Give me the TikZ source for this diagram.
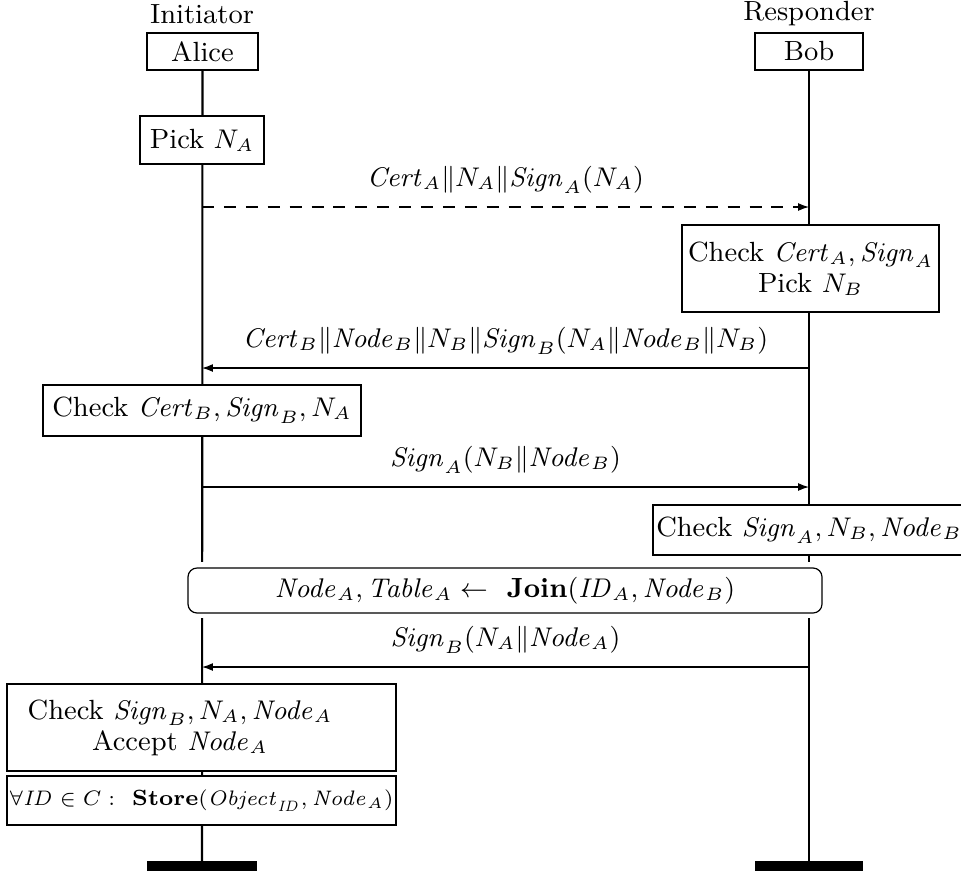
\documentclass[tikz,border=0pt]{standalone}
\usetikzlibrary{arrows.meta}
% one drawing unit = one third of a point
\newcommand\pu[1]{#1*0.3333pt}
% italic words in formulas
\newcommand\w[1]{\mathit{#1}}
\begin{document}
\begin{tikzpicture}[x=0.3333pt,y=-0.3333pt,
  every node/.style={font=\fontsize{9.25}{10.4}\selectfont},
  box/.style={draw, fill=white, inner sep=0pt, line width=0.4pt, align=center},
  life/.style={line width=0.7pt},
  msg/.style={line width=0.4pt, -{Latex[length=3.6pt,width=2.6pt]}},
  lbl/.style={midway, yshift=9pt},
  endbar/.style={fill=black, draw=none}
]
\useasboundingbox (0,0) rectangle (961,877);

% instance heads
\node (ini) at (202,14) {Initiator};
\node (res) at (809,14) {Responder};
\node[box, minimum width=\pu{111}, minimum height=\pu{37}] (alice) at (202.5,51.5) {Alice};
\node[box, minimum width=\pu{108}, minimum height=\pu{37}] (bob) at (809,51.5) {Bob};

% instance ends
\coordinate (aend) at (202,861);
\coordinate (bend) at (809,861);
\fill[endbar] (147,861) rectangle (257,871);
\fill[endbar] (755,861) rectangle (863,871);

% lifelines
\draw[life] (alice.south) -- (aend);
\draw[life] (bob.south) -- (bend);

% local actions
\node[box, minimum width=\pu{124}, minimum height=\pu{48}] (pickna) at (202,140) {Pick $N_A$};
\node[box, minimum width=\pu{257}, minimum height=\pu{87}] (chkca) at (810.5,268.5)
  {Check $\w{Cert}_A, \w{Sign}_A$\\ Pick $N_B$};
\node[box, minimum width=\pu{318}, minimum height=\pu{51}] (chkcb) at (202,410.5)
  {Check $\w{Cert}_B, \w{Sign}_B, N_A$};
\node[box, minimum width=\pu{312}, minimum height=\pu{50}] (chksa) at (809,530)
  {Check $\w{Sign}_A, N_B, \w{Node}_B$};

% shared join action (white margin cuts the lifelines)
\fill[white] (181,562) rectangle (829,618);
\node[box, rounded corners=\pu{9}, minimum width=\pu{634}, minimum height=\pu{45}] (join) at (505,590.5)
  {$\w{Node}_A, \w{Table}_A \leftarrow$~~\textbf{Join}$(\w{ID}_A, \w{Node}_B)$};

\node[box, minimum width=\pu{389}, minimum height=\pu{87}] (chksb) at (201.5,727.5) {};
\node[align=center] (chksbt) at (180,727.5)
  {Check $\w{Sign}_B, N_A, \w{Node}_A$\\ Accept $\w{Node}_A$};
\node[box, minimum width=\pu{389}, minimum height=\pu{49}, font=\fontsize{7.35}{9}\selectfont] (store) at (201.5,800.5)
  {$\forall \w{ID} \in C:$~~\textbf{Store}$(\w{Object}_{\w{ID}}, \w{Node}_A)$};

% message end points on the lifelines
\coordinate (m1a) at (202,207);  \coordinate (m1b) at (809,207);
\coordinate (m2a) at (202,368);  \coordinate (m2b) at (809,368);
\coordinate (m3a) at (202,487);  \coordinate (m3b) at (809,487);
\coordinate (m4a) at (202,667);  \coordinate (m4b) at (809,667);

% messages
\draw[msg, dashed, dash pattern=on 4pt off 3.3pt] (m1a) -- (m1b)
  node[lbl] (l1) {$\w{Cert}_A \| N_A \| \w{Sign}_A(N_A)$};
\draw[msg] (m2b) -- (m2a)
  node[lbl] (l2) {$\w{Cert}_B \| \w{Node}_B \| N_B \| \w{Sign}_B(N_A \| \w{Node}_B \| N_B)$};
\draw[msg] (m3a) -- (m3b)
  node[lbl] (l3) {$\w{Sign}_A(N_B \| \w{Node}_B)$};
\draw[msg] (m4b) -- (m4a)
  node[lbl] (l4) {$\w{Sign}_B(N_A \| \w{Node}_A)$};
\end{tikzpicture}
\end{document}
